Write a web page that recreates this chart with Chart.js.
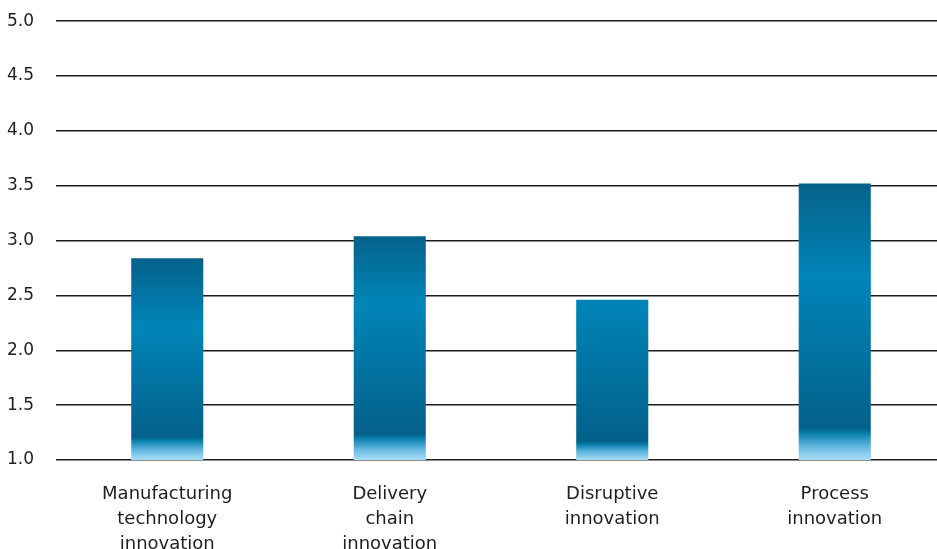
<!DOCTYPE html>
<html>
<head>
<meta charset="utf-8">
<script src="https://cdn.jsdelivr.net/npm/chart.js@4.4.1/dist/chart.umd.min.js"></script>
<style>
  html, body { margin: 0; padding: 0; background: #fff; overflow: hidden; }
  #wrap { width: 946px; height: 560px; margin-top: -11px; }
</style>
</head>
<body>
<div id="wrap"><canvas id="innovationChart"></canvas></div>
<script>
// 데이터
const categories = [
    ['Manufacturing', 'technology', 'innovation'],
    ['Delivery', 'chain', 'innovation'],
    ['Disruptive', 'innovation'],
    ['Process', 'innovation']
];
const scores = [2.84, 3.04, 2.46, 3.52];
const yTicks = [1.0, 1.5, 2.0, 2.5, 3.0, 3.5, 4.0, 4.5, 5.0];

// 막대별 그라데이션 밝은 지점 (막대 위에서부터의 비율)
const highlightAt = [0.34, 0.3, 0.0, 0.34];

// 막대 그라데이션
function barGradient(context) {
    const chart = context.chart;
    const { chartArea, scales } = chart;
    if (!chartArea) return '#0083b5';
    const top = scales.y.getPixelForValue(context.raw);
    const bottom = scales.y.getPixelForValue(yTicks[0]);
    const g = chart.ctx.createLinearGradient(0, top, 0, bottom);
    const hi = highlightAt[context.dataIndex];
    if (hi > 0) g.addColorStop(0, '#05628a');
    g.addColorStop(hi, '#0085b8');
    g.addColorStop(0.885, '#03618a');
    g.addColorStop(0.905, '#0a80ae');
    g.addColorStop(0.95, '#62b6e0');
    g.addColorStop(1, '#a9ddf6');
    return g;
}

const ctx = document.getElementById('innovationChart').getContext('2d');
const chart = new Chart(ctx, {
    type: 'bar',
    data: {
        labels: categories,
        datasets: [{
            data: scores,
            backgroundColor: barGradient,
            borderWidth: 0,
            barPercentage: 1,
            categoryPercentage: 0.324
        }]
    },
    options: {
        responsive: true,
        maintainAspectRatio: false,
        animation: false,
        layout: { padding: { top: -2, right: 0, left: 0, bottom: 0 } },
        plugins: {
            legend: { display: false },
            tooltip: { enabled: false }
        },
        scales: {
            x: {
                grid: { display: false },
                border: { display: false },
                ticks: {
                    color: '#1e1e1e',
                    font: { family: 'DejaVu Sans', size: 18, lineHeight: 1.39 },
                    padding: 14,
                    maxRotation: 0,
                    autoSkip: false
                },
                afterFit: s => { s.height = 89; }
            },
            y: {
                min: 1,
                max: 5,
                afterBuildTicks: s => { s.ticks = yTicks.map(v => ({ value: v })); },
                grid: { color: '#1c1c1c', lineWidth: 1.5, drawTicks: false },
                border: { display: false },
                ticks: {
                    color: '#1e1e1e',
                    font: { family: 'DejaVu Sans', size: 17 },
                    padding: 22,
                    callback: v => v.toFixed(1)
                },
                afterFit: s => { s.width = 56; }
            }
        }
    }
});
</script>
</body>
</html>
